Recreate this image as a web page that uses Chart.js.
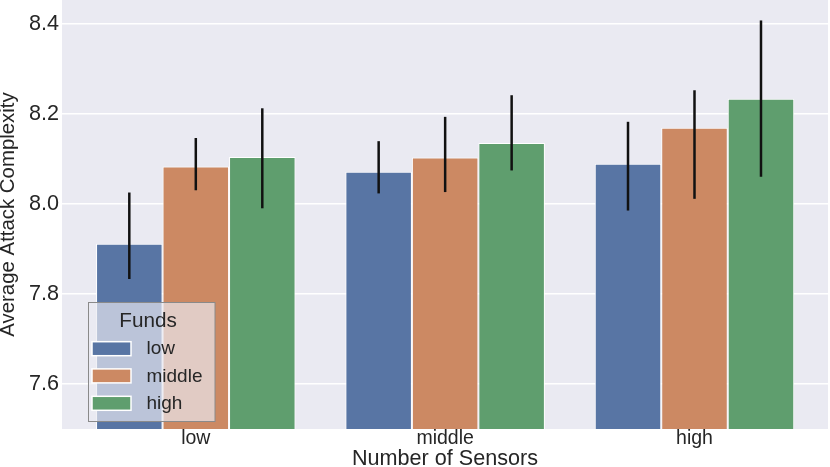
<!DOCTYPE html>
<html>
<head>
<meta charset="utf-8">
<script src="https://cdn.jsdelivr.net/npm/chart.js@4/dist/chart.umd.min.js"></script>
<style>
  html, body { margin: 0; padding: 0; background: #ffffff; }
  #wrap { position: relative; width: 830px; height: 467px; }
</style>
</head>
<body>
<div id="wrap"><canvas id="c" width="830" height="467"></canvas></div>
<script>
// ---- data ----
const categories = ['low', 'middle', 'high'];
const fundNames = ['low', 'middle', 'high'];
const fundsLow    = [7.911, 8.071, 8.089];
const fundsMiddle = [8.083, 8.103, 8.169];
const fundsHigh   = [8.104, 8.135, 8.233];
const errLowLo    = [7.833, 8.023, 7.985];
const errLowHi    = [8.025, 8.139, 8.182];
const errMidLo    = [8.030, 8.026, 8.011];
const errMidHi    = [8.146, 8.193, 8.252];
const errHighLo   = [7.990, 8.074, 8.060];
const errHighHi   = [8.212, 8.241, 8.407];
const yTicks = [7.6, 7.8, 8.0, 8.2, 8.4];
const yMin = 7.5, yMax = 8.4524;
const xMin = -0.5366, xMax = 2.5354;

// ---- styles ----
const colors = ['#5875a4', '#cc8963', '#5f9e6e'];
const textColor = '#262626';
const FONT = '"Liberation Sans", Arial, sans-serif';

const seriesVals = [fundsLow, fundsMiddle, fundsHigh];
const seriesLo = [errLowLo, errMidLo, errHighLo];
const seriesHi = [errLowHi, errMidHi, errHighHi];

const datasets = fundNames.map((name, s) => ({
  label: name,
  data: categories.map((c, i) => ({ x: i, y: seriesVals[s][i] })),
  backgroundColor: colors[s],
  borderColor: '#ffffff',
  borderWidth: 1,
  borderSkipped: 'start',
  categoryPercentage: 0.8,
  barPercentage: 1.0,
  errLo: seriesLo[s],
  errHi: seriesHi[s]
}));

const bgPlugin = {
  id: 'plotBg',
  beforeDraw(chart) {
    const { ctx, chartArea: a } = chart;
    ctx.save();
    ctx.fillStyle = '#eaeaf2';
    ctx.fillRect(a.left, a.top, a.right - a.left, a.bottom - a.top);
    ctx.restore();
  }
};

const errPlugin = {
  id: 'errBars',
  afterDatasetsDraw(chart) {
    const { ctx } = chart;
    const ys = chart.scales.y;
    ctx.save();
    ctx.strokeStyle = '#111111';
    ctx.lineWidth = 2.5;
    ctx.lineCap = 'butt';
    chart.data.datasets.forEach((ds, s) => {
      const meta = chart.getDatasetMeta(s);
      meta.data.forEach((bar, i) => {
        const x = bar.x;
        ctx.beginPath();
        ctx.moveTo(x, ys.getPixelForValue(ds.errLo[i]));
        ctx.lineTo(x, ys.getPixelForValue(ds.errHi[i]));
        ctx.stroke();
      });
    });
    ctx.restore();
  }
};

const legendPlugin = {
  id: 'boxLegend',
  afterDraw(chart) {
    const { ctx } = chart;
    const bx = 88.5, by = 302.5, bw = 126.5, bh = 119;
    ctx.save();
    ctx.fillStyle = 'rgba(234,234,242,0.68)';
    ctx.fillRect(bx, by, bw, bh);
    ctx.strokeStyle = '#8a8a8a';
    ctx.lineWidth = 1;
    ctx.strokeRect(bx, by, bw, bh);
    ctx.fillStyle = textColor;
    ctx.textBaseline = 'middle';
    ctx.textAlign = 'center';
    ctx.font = '20.7px ' + FONT;
    ctx.fillText('Funds', 148, 321);
    const rows = [348.7, 375.9, 403.3];
    ctx.textAlign = 'left';
    ctx.font = '19px ' + FONT;
    chart.data.datasets.forEach((ds, s) => {
      const cy = rows[s];
      ctx.fillStyle = ds.backgroundColor;
      ctx.fillRect(92, cy - 7, 39, 14);
      ctx.strokeStyle = '#ffffff';
      ctx.lineWidth = 1.5;
      ctx.strokeRect(92, cy - 7, 39, 14);
      ctx.fillStyle = textColor;
      ctx.fillText(ds.label, 146.5, cy + 0.5);
    });
    ctx.restore();
  }
};

new Chart(document.getElementById('c'), {
  type: 'bar',
  data: { datasets },
  plugins: [bgPlugin, errPlugin, legendPlugin],
  options: {
    responsive: false,
    animation: false,
    devicePixelRatio: 1,
    layout: { padding: { left: 0, right: 2, top: 0, bottom: 0 } },
    plugins: { legend: { display: false }, tooltip: { enabled: false } },
    scales: {
      x: {
        type: 'linear',
        min: xMin,
        max: xMax,
        offset: false,
        grid: { display: false, drawTicks: false },
        border: { display: false },
        afterBuildTicks(scale) { scale.ticks = categories.map((c, i) => ({ value: i })); },
        ticks: {
          color: textColor,
          font: { family: FONT, size: 19.5 },
          padding: -2,
          maxRotation: 0,
          autoSkip: false,
          callback: (v) => categories[v]
        },
        title: {
          display: true,
          text: 'Number of Sensors',
          color: textColor,
          font: { family: FONT, size: 21.6, lineHeight: 0.7 },
          padding: 0
        },
        afterFit(scale) { scale.height = 38; scale.paddingLeft = 0; scale.paddingRight = 0; }
      },
      y: {
        min: yMin,
        max: yMax,
        grid: { color: '#ffffff', lineWidth: 1.5, drawTicks: false },
        border: { display: false },
        afterBuildTicks(scale) { scale.ticks = yTicks.map(v => ({ value: v })); },
        ticks: {
          color: textColor,
          font: { family: FONT, size: 21.6 },
          padding: 3,
          callback: (v) => v.toFixed(1)
        },
        title: {
          display: true,
          text: 'Average Attack Complexity',
          color: textColor,
          font: { family: FONT, size: 20.4, lineHeight: 0.8 },
          padding: 0
        },
        afterFit(scale) { scale.width = 62; scale.paddingTop = 0; scale.paddingBottom = 0; }
      }
    }
  }
});
</script>
</body>
</html>
